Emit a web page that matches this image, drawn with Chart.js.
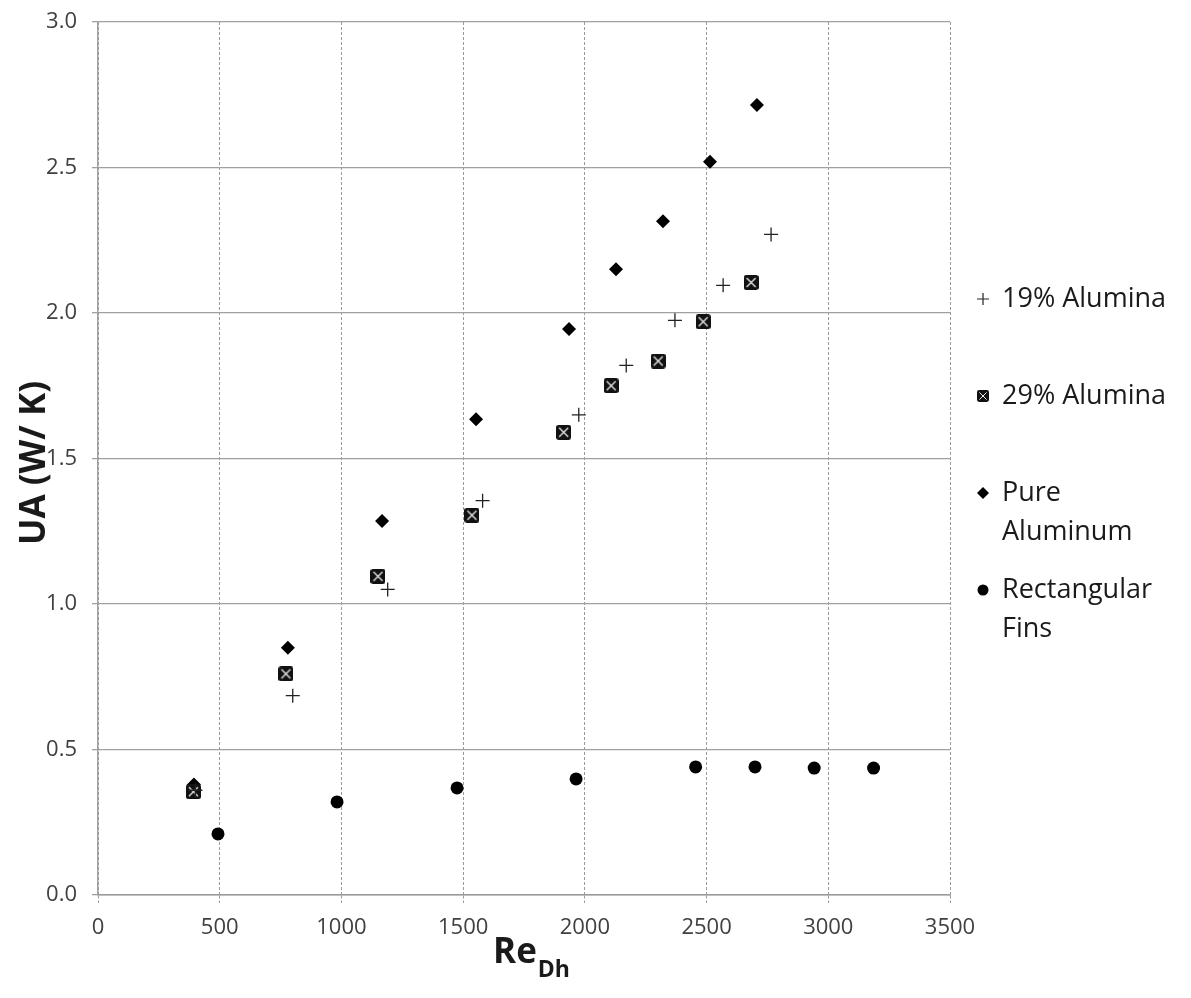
<!DOCTYPE html>
<html>
<head>
<meta charset="utf-8">
<script src="https://cdn.jsdelivr.net/npm/chart.js@4.4.1/dist/chart.umd.min.js"></script>
<style>
  html, body { margin: 0; padding: 0; background: #fff; }
  #wrap { width: 1191px; height: 998px; position: relative; }
</style>
</head>
<body>
<div id="wrap"><canvas id="myChart" width="1191" height="998"></canvas></div>
<script>
// series values (Re_Dh, UA)
const alumina19X = [400, 800, 1190, 1580, 1975, 2170, 2370, 2568, 2765];
const alumina19Y = [0.36, 0.685, 1.05, 1.355, 1.65, 1.82, 1.975, 2.095, 2.27];

const alumina29X = [392, 772, 1150, 1536, 1913, 2108, 2301, 2486, 2683];
const alumina29Y = [0.355, 0.76, 1.095, 1.305, 1.59, 1.75, 1.835, 1.97, 2.105];

const pureAlX = [394, 780, 1167, 1553, 1935, 2128, 2321, 2514, 2707];
const pureAlY = [0.38, 0.85, 1.285, 1.635, 1.945, 2.15, 2.315, 2.52, 2.715];

const rectFinsX = [493, 982, 1475, 1964, 2455, 2699, 2942, 3186];
const rectFinsY = [0.21, 0.32, 0.368, 0.399, 0.44, 0.44, 0.436, 0.436];

const seriesNames = ['19% Alumina', '29% Alumina', 'Pure\nAluminum', 'Rectangular\nFins'];
const xTicks = [0, 500, 1000, 1500, 2000, 2500, 3000, 3500];
const yTicks = [0.0, 0.5, 1.0, 1.5, 2.0, 2.5, 3.0];

const FONT = "'Open Sans', 'DejaVu Sans', sans-serif";

function pts(xs, ys) {
  return xs.map((x, i) => ({ x: x, y: ys[i] }));
}

// boxed X marker
function boxMarker(s) {
  const c = document.createElement('canvas');
  c.width = s; c.height = s;
  const g = c.getContext('2d');
  const r = s * 0.18;
  g.fillStyle = '#111';
  g.beginPath();
  g.moveTo(r, 0); g.lineTo(s - r, 0); g.quadraticCurveTo(s, 0, s, r);
  g.lineTo(s, s - r); g.quadraticCurveTo(s, s, s - r, s);
  g.lineTo(r, s); g.quadraticCurveTo(0, s, 0, s - r);
  g.lineTo(0, r); g.quadraticCurveTo(0, 0, r, 0);
  g.fill();
  g.strokeStyle = '#eeeeee';
  g.lineWidth = Math.max(1, s / 12);
  const a = s * 0.2, b = s * 0.8;
  g.beginPath();
  g.moveTo(a, a); g.lineTo(b, b);
  g.moveTo(b, a); g.lineTo(a, b);
  g.stroke();
  return c;
}
const boxBig = boxMarker(15);
const boxSmall = boxMarker(12);

const datasets = [
  { label: seriesNames[0], data: pts(alumina19X, alumina19Y), pointStyle: 'cross',
    pointRadius: 7, borderColor: '#222', borderWidth: 1.3, backgroundColor: '#222' },
  { label: seriesNames[1], data: pts(alumina29X, alumina29Y), pointStyle: boxBig,
    pointRadius: 8, borderColor: '#111', backgroundColor: '#111' },
  { label: seriesNames[2], data: pts(pureAlX, pureAlY), pointStyle: 'rectRot',
    pointRadius: 7, borderWidth: 0, borderColor: '#000', backgroundColor: '#000' },
  { label: seriesNames[3], data: pts(rectFinsX, rectFinsY), pointStyle: 'circle',
    pointRadius: 6.5, borderWidth: 0, borderColor: '#000', backgroundColor: '#000' }
];

// right-hand legend and axis titles
const decorations = {
  id: 'decorations',
  afterDraw(chart) {
    const ctx = chart.ctx;
    ctx.save();
    ctx.fillStyle = '#1a1a1a';
    ctx.textBaseline = 'middle';
    ctx.textAlign = 'left';
    ctx.font = '27px ' + FONT;
    const mx = 983, tx = 1002;
    const rows = [299, 396, 493, 590];
    seriesNames.forEach((name, i) => {
      const y = rows[i];
      name.split('\n').forEach((line, j) => ctx.fillText(line, tx, y + j * 39));
      ctx.strokeStyle = '#222';
      ctx.fillStyle = '#000';
      if (i === 0) {
        ctx.lineWidth = 1.2;
        ctx.beginPath();
        ctx.moveTo(mx - 6, y); ctx.lineTo(mx + 6, y);
        ctx.moveTo(mx, y - 6); ctx.lineTo(mx, y + 6);
        ctx.stroke();
      } else if (i === 1) {
        ctx.drawImage(boxSmall, mx - 6, y - 6);
      } else if (i === 2) {
        ctx.beginPath();
        ctx.moveTo(mx, y - 6); ctx.lineTo(mx + 6, y);
        ctx.lineTo(mx, y + 6); ctx.lineTo(mx - 6, y);
        ctx.closePath(); ctx.fill();
      } else {
        ctx.beginPath(); ctx.arc(mx, y, 5.5, 0, Math.PI * 2); ctx.fill();
      }
      ctx.fillStyle = '#1a1a1a';
    });

    // y title
    ctx.save();
    ctx.translate(35, 463);
    ctx.rotate(-Math.PI / 2);
    ctx.textAlign = 'center';
    ctx.font = 'bold 35px ' + FONT;
    ctx.fillText('UA (W/ K)', 0, 0);
    ctx.restore();

    // x title with subscript
    ctx.textBaseline = 'alphabetic';
    ctx.font = 'bold 35px ' + FONT;
    const main = 'Re';
    const sub = 'Dh';
    const wMain = ctx.measureText(main).width;
    ctx.font = 'bold 23px ' + FONT;
    const wSub = ctx.measureText(sub).width;
    const x0 = 531 - (wMain + wSub) / 2;
    ctx.font = 'bold 35px ' + FONT;
    ctx.fillText(main, x0, 963);
    ctx.font = 'bold 23px ' + FONT;
    ctx.fillText(sub, x0 + wMain + 1, 977);
    ctx.restore();
  }
};

const config = {
  type: 'scatter',
  data: { datasets },
  options: {
    responsive: false,
    animation: false,
    layout: { padding: { top: 22, right: 241, left: 0, bottom: 0 } },
    scales: {
      x: {
        type: 'linear',
        min: xTicks[0],
        max: xTicks[xTicks.length - 1],
        afterBuildTicks: (scale) => { scale.ticks = xTicks.map(v => ({ value: v })); },
        afterFit: (scale) => { scale.height = 103; scale.paddingLeft = 0; scale.paddingRight = 0; },
        ticks: {
          color: '#404040',
          font: { family: FONT, size: 22 },
          padding: 12,
          maxRotation: 0,
          callback: (v) => String(v)
        },
        grid: { color: '#9a9a9a', lineWidth: 1, tickLength: 8, tickColor: '#9a9a9a', tickBorderDash: [3, 2] },
        border: { color: '#9a9a9a', width: 1.5, dash: [3, 2] }
      },
      y: {
        type: 'linear',
        min: yTicks[0],
        max: yTicks[yTicks.length - 1],
        afterBuildTicks: (scale) => { scale.ticks = yTicks.map(v => ({ value: v })); },
        afterFit: (scale) => { scale.width = 98; scale.paddingTop = 0; scale.paddingBottom = 0; },
        ticks: {
          color: '#404040',
          font: { family: FONT, size: 22 },
          padding: 15,
          callback: (v) => Number(v).toFixed(1)
        },
        grid: { color: '#a0a0a0', lineWidth: 1.3, tickLength: 6, tickColor: '#a0a0a0' },
        border: { color: '#a0a0a0', width: 1.5 }
      }
    },
    plugins: {
      legend: { display: false },
      tooltip: { enabled: false }
    }
  },
  plugins: [decorations]
};

const myChart = new Chart(document.getElementById('myChart'), config);
</script>
</body>
</html>
